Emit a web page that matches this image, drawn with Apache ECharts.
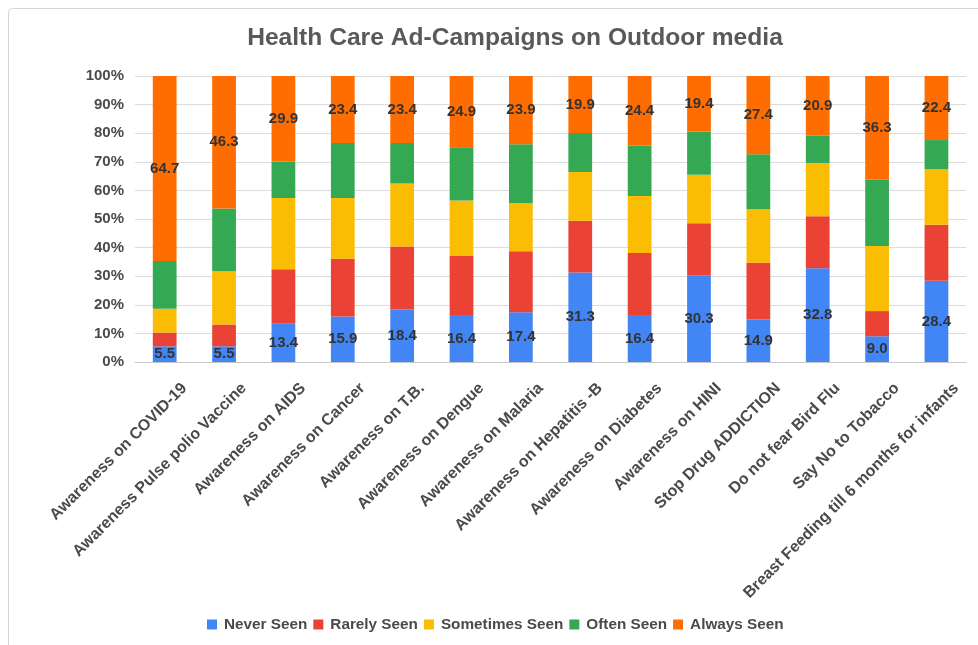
<!DOCTYPE html>
<html>
<head>
<meta charset="utf-8">
<script src="https://cdn.jsdelivr.net/npm/echarts@6/dist/echarts.min.js"></script>
<style>
  html, body { margin: 0; padding: 0; background: #ffffff; }
  #chart { width: 978px; height: 645px; }
</style>
</head>
<body>
<div id="chart"></div>
<script>
// Campaign names along the x axis
const categories = [
  'Awareness on COVID-19',
  'Awareness Pulse polio Vaccine',
  'Awareness on AIDS',
  'Awareness on Cancer',
  'Awareness on T.B.',
  'Awareness on Dengue',
  'Awareness on Malaria',
  'Awareness on Hepatitis -B',
  'Awareness on Diabetes',
  'Awareness on HINI',
  'Stop Drug ADDICTION',
  'Do not fear Bird Flu',
  'Say No to Tobacco',
  'Breast Feeding till 6 months for infants'
];

// Share of respondents (%) per exposure level
const neverSeen     = [5.5, 5.5, 13.4, 15.9, 18.4, 16.4, 17.4, 31.3, 16.4, 30.3, 14.9, 32.8, 9.0, 28.4];
const rarelySeen    = [4.8, 7.6, 19.0, 20.2, 22.0, 20.7, 21.3, 18.1, 21.7, 18.2, 19.8, 18.2, 8.8, 19.6];
const sometimesSeen = [8.3, 18.6, 24.9, 21.2, 22.0, 19.4, 16.9, 17.0, 19.9, 17.0, 18.7, 18.6, 22.8, 19.4];
const oftenSeen     = [16.7, 22.0, 12.8, 19.3, 14.2, 18.6, 20.5, 13.7, 17.6, 15.1, 19.2, 9.5, 23.1, 10.2];
const alwaysSeen    = [64.7, 46.3, 29.9, 23.4, 23.4, 24.9, 23.9, 19.9, 24.4, 19.4, 27.4, 20.9, 36.3, 22.4];

const seriesNames = ['Never Seen', 'Rarely Seen', 'Sometimes Seen', 'Often Seen', 'Always Seen'];
const seriesData = [neverSeen, rarelySeen, sometimesSeen, oftenSeen, alwaysSeen];
const seriesColors = ['#4285F4', '#EA4335', '#FBBC04', '#34A853', '#FF6D01'];
const labelled = [true, false, false, false, true];

const FONT = '"Liberation Sans", Arial, Helvetica, sans-serif';

const chart = echarts.init(document.getElementById('chart'), null, { renderer: 'canvas' });

const series = seriesNames.map((name, i) => ({
  name: name,
  type: 'bar',
  stack: 'total',
  barWidth: '40%',
  itemStyle: { color: seriesColors[i] },
  label: {
    show: labelled[i],
    position: 'inside',
    color: '#333333',
    fontFamily: FONT,
    fontWeight: 'bold',
    fontSize: 15,
    formatter: p => Number(p.value).toFixed(1)
  },
  emphasis: { disabled: true },
  data: seriesData[i]
}));

chart.setOption({
  animation: false,
  backgroundColor: '#ffffff',
  graphic: [{
    type: 'rect',
    shape: { x: 8.5, y: 8.5, width: 1100, height: 800, r: 4 },
    style: { fill: 'none', stroke: '#d6d6d6', lineWidth: 1 },
    silent: true,
    z: -10
  }],
  title: {
    text: 'Health Care Ad-Campaigns on Outdoor media',
    left: 515,
    top: 26,
    padding: 0,
    textAlign: 'center',
    textStyle: {
      fontFamily: FONT,
      fontSize: 24.6,
      fontWeight: 'bold',
      color: '#595959'
    }
  },
  legend: {
    data: seriesNames,
    left: 207,
    top: 617,
    padding: 0,
    itemWidth: 10,
    itemHeight: 10,
    itemGap: 6,
    icon: 'rect',
    textStyle: {
      fontFamily: FONT,
      fontSize: 15.3,
      fontWeight: 'bold',
      color: '#4a4a4a',
      padding: [0, 0, 0, 2]
    }
  },
  grid: {
    left: 135,
    right: 7,
    top: 76,
    bottom: 283,
    containLabel: false
  },
  xAxis: {
    type: 'category',
    data: categories,
    axisTick: { show: false },
    axisLine: { show: true, lineStyle: { color: '#c8c8c8', width: 1 } },
    axisLabel: {
      interval: 0,
      rotate: 45,
      margin: 4,
      verticalAlign: 'top',
      lineHeight: 56,
      fontFamily: FONT,
      fontSize: 16,
      fontWeight: 'bold',
      color: '#4a4a4a'
    }
  },
  yAxis: {
    type: 'value',
    min: 0,
    max: 100,
    interval: 10,
    axisLine: { show: false },
    axisTick: { show: false },
    splitLine: { lineStyle: { color: '#dcdcdc', width: 1 } },
    axisLabel: {
      margin: 11,
      formatter: '{value}%',
      fontFamily: FONT,
      fontSize: 15,
      fontWeight: 'bold',
      color: '#4a4a4a'
    }
  },
  series: series
});
</script>
</body>
</html>
